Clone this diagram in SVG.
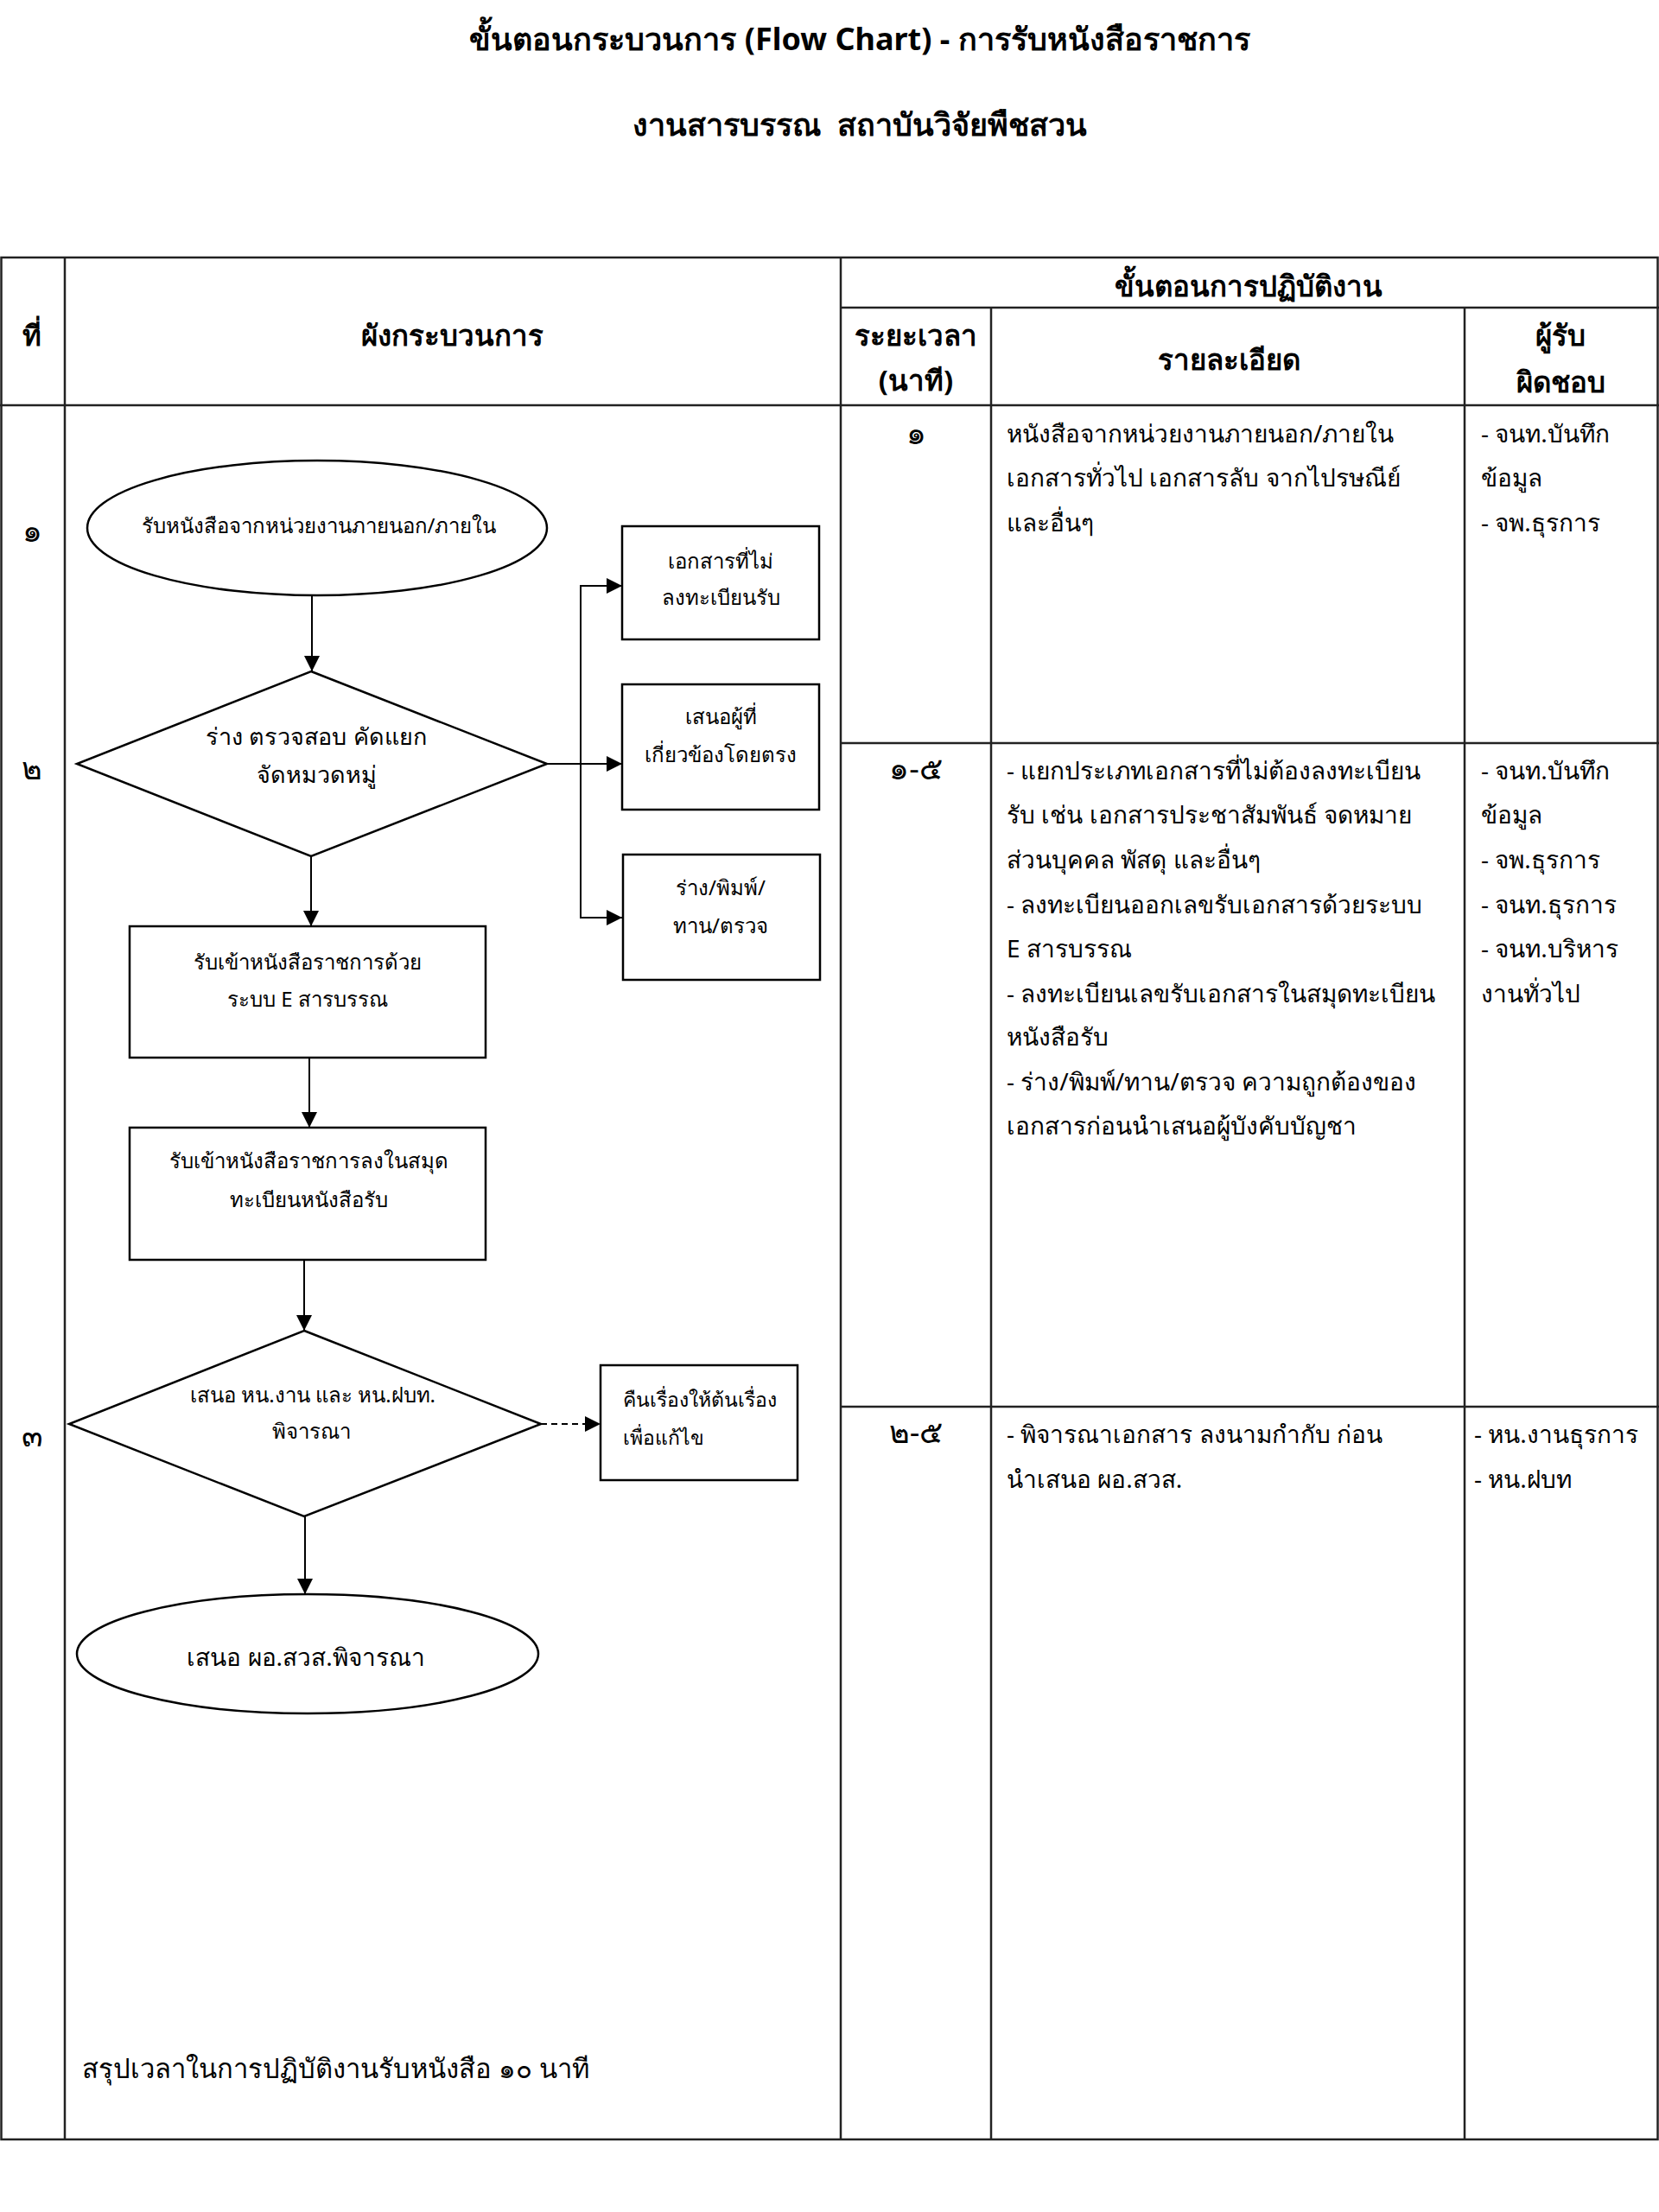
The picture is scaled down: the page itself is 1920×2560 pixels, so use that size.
<svg xmlns="http://www.w3.org/2000/svg" width="1920" height="2560" viewBox="0 0 1920 2560">
<defs>
<style>
.t{font-family:"Noto Sans","DejaVu Sans",sans-serif;fill:#000}
.b{font-weight:bold}
.h{font-size:33px}
.c{text-anchor:middle}
.d{font-size:28px}
.n{font-size:24px}
.g{font-size:36px}
.grid{stroke:#222;stroke-width:2.5;fill:none}
.shape{fill:#fff;stroke:#000;stroke-width:2.5}
.conn{stroke:#000;stroke-width:2;fill:none}
.dash{stroke-dasharray:7 5}
</style>
<marker id="arr" viewBox="0 0 10 10" refX="10" refY="5" markerUnits="userSpaceOnUse" markerWidth="20" markerHeight="18" orient="auto">
<path d="M0,0 L10,5 L0,10 z" fill="#000"/>
</marker>
</defs>
<rect width="1920" height="2560" fill="#fff"/>
<g id="title">
<text class="t b c" x="995" y="58" font-size="36">ขั้นตอนกระบวนการ (Flow Chart) - การรับหนังสือราชการ</text>
<text class="t b c" x="995" y="157" font-size="36" xml:space="preserve">งานสารบรรณ  สถาบันวิจัยพืชสวน</text>
</g>
<g id="table">
<rect class="grid" x="1.5" y="298" width="1917" height="2178"/>
<line class="grid" x1="75" y1="298" x2="75" y2="2476"/>
<line class="grid" x1="973" y1="298" x2="973" y2="2476"/>
<line class="grid" x1="973" y1="356" x2="1920" y2="356"/>
<line class="grid" x1="1147" y1="356" x2="1147" y2="2476"/>
<line class="grid" x1="1695" y1="356" x2="1695" y2="2476"/>
<line class="grid" x1="0" y1="469" x2="1920" y2="469"/>
<line class="grid" x1="973" y1="860" x2="1920" y2="860"/>
<line class="grid" x1="973" y1="1628" x2="1920" y2="1628"/>
<text class="t b h c" x="37" y="400">ที่</text>
<text class="t b h c" x="523" y="400">ผังกระบวนการ</text>
<text class="t b h c" x="1445" y="343">ขั้นตอนการปฏิบัติงาน</text>
<text class="t b h c" x="1060" y="400">ระยะเวลา</text>
<text class="t b h c" x="1060" y="452">(นาที)</text>
<text class="t b h c" x="1422" y="428">รายละเอียด</text>
<text class="t b h c" x="1806" y="400">ผู้รับ</text>
<text class="t b h c" x="1806" y="454">ผิดชอบ</text>
<text class="t g c" x="37" y="627">๑</text>
<text class="t g c" x="37" y="902">๒</text>
<text class="t g c" x="37" y="1674">๓</text>
</g>
<g id="row1">
<text class="t g c" x="1060" y="514">๑</text>
<text class="t d" x="1165" y="512">หนังสือจากหน่วยงานภายนอก/ภายใน</text>
<text class="t d" x="1165" y="563">เอกสารทั่วไป เอกสารลับ จากไปรษณีย์</text>
<text class="t d" x="1165" y="615">และอื่นๆ</text>
<text class="t d" x="1714" y="512">- จนท.บันทึก</text>
<text class="t d" x="1714" y="563">ข้อมูล</text>
<text class="t d" x="1714" y="615">- จพ.ธุรการ</text>
</g>
<g id="row2">
<text class="t g c" x="1060" y="902">๑-๕</text>
<text class="t d" x="1165" y="902">- แยกประเภทเอกสารที่ไม่ต้องลงทะเบียน</text>
<text class="t d" x="1165" y="953">รับ เช่น เอกสารประชาสัมพันธ์ จดหมาย</text>
<text class="t d" x="1165" y="1005">ส่วนบุคคล พัสดุ และอื่นๆ</text>
<text class="t d" x="1165" y="1057">- ลงทะเบียนออกเลขรับเอกสารด้วยระบบ</text>
<text class="t d" x="1165" y="1108">E สารบรรณ</text>
<text class="t d" x="1165" y="1160">- ลงทะเบียนเลขรับเอกสารในสมุดทะเบียน</text>
<text class="t d" x="1165" y="1210">หนังสือรับ</text>
<text class="t d" x="1165" y="1262">- ร่าง/พิมพ์/ทาน/ตรวจ ความถูกต้องของ</text>
<text class="t d" x="1165" y="1313">เอกสารก่อนนำเสนอผู้บังคับบัญชา</text>
<text class="t d" x="1714" y="902">- จนท.บันทึก</text>
<text class="t d" x="1714" y="953">ข้อมูล</text>
<text class="t d" x="1714" y="1005">- จพ.ธุรการ</text>
<text class="t d" x="1714" y="1057">- จนท.ธุรการ</text>
<text class="t d" x="1714" y="1108">- จนท.บริหาร</text>
<text class="t d" x="1714" y="1160">งานทั่วไป</text>
</g>
<g id="row3">
<text class="t g c" x="1060" y="1670">๒-๕</text>
<text class="t d" x="1165" y="1670">- พิจารณาเอกสาร ลงนามกำกับ ก่อน</text>
<text class="t d" x="1165" y="1722">นำเสนอ ผอ.สวส.</text>
<text class="t d" x="1706" y="1670">- หน.งานธุรการ</text>
<text class="t d" x="1706" y="1722">- หน.ฝบท</text>
</g>
<g id="connectors">
<line class="conn" x1="361" y1="689" x2="361" y2="777" marker-end="url(#arr)"/>
<line class="conn" x1="360" y1="991" x2="360" y2="1072" marker-end="url(#arr)"/>
<line class="conn" x1="358" y1="1224" x2="358" y2="1305" marker-end="url(#arr)"/>
<line class="conn" x1="352" y1="1458" x2="352" y2="1540" marker-end="url(#arr)"/>
<line class="conn" x1="353" y1="1755" x2="353" y2="1845" marker-end="url(#arr)"/>
<line class="conn" x1="633" y1="884" x2="720" y2="884" marker-end="url(#arr)"/>
<path class="conn" d="M672,884 V678 H720" marker-end="url(#arr)"/>
<path class="conn" d="M672,884 V1062 H720" marker-end="url(#arr)"/>
<line class="conn dash" x1="626" y1="1648" x2="695" y2="1648" marker-end="url(#arr)"/>
</g>
<g id="start">
<ellipse class="shape" cx="367" cy="611" rx="266" ry="78"/>
<text class="t n c" x="369" y="617">รับหนังสือจากหน่วยงานภายนอก/ภายใน</text>
</g>
<g id="sort">
<polygon class="shape" points="360,777 633,884 360,991 89,884"/>
<text class="t c" font-size="27" x="366" y="862">ร่าง ตรวจสอบ คัดแยก</text>
<text class="t c" font-size="27" x="366" y="906">จัดหมวดหมู่</text>
</g>
<g id="nonreg">
<rect class="shape" x="720" y="609" width="228" height="131"/>
<text class="t n c" x="834" y="658">เอกสารที่ไม่</text>
<text class="t n c" x="834" y="700">ลงทะเบียนรับ</text>
</g>
<g id="direct">
<rect class="shape" x="720" y="792" width="228" height="145"/>
<text class="t n c" x="834" y="838">เสนอผู้ที่</text>
<text class="t n c" x="834" y="882">เกี่ยวข้องโดยตรง</text>
</g>
<g id="draft">
<rect class="shape" x="721" y="989" width="228" height="145"/>
<text class="t n c" x="834" y="1036">ร่าง/พิมพ์/</text>
<text class="t n c" x="834" y="1080">ทาน/ตรวจ</text>
</g>
<g id="esys">
<rect class="shape" x="150" y="1072" width="412" height="152"/>
<text class="t n c" x="356" y="1122">รับเข้าหนังสือราชการด้วย</text>
<text class="t n c" x="356" y="1165">ระบบ E สารบรรณ</text>
</g>
<g id="book">
<rect class="shape" x="150" y="1305" width="412" height="153"/>
<text class="t n c" x="357" y="1352">รับเข้าหนังสือราชการลงในสมุด</text>
<text class="t n c" x="357" y="1397">ทะเบียนหนังสือรับ</text>
</g>
<g id="review">
<polygon class="shape" points="352,1540 626,1648 352,1755 80,1648"/>
<text class="t n c" x="362" y="1623">เสนอ หน.งาน และ หน.ฝบท.</text>
<text class="t n c" x="360" y="1665">พิจารณา</text>
</g>
<g id="return">
<rect class="shape" x="695" y="1580" width="228" height="133"/>
<text class="t" font-size="23" x="721" y="1628">คืนเรื่องให้ต้นเรื่อง</text>
<text class="t" font-size="23" x="721" y="1672">เพื่อแก้ไข</text>
</g>
<g id="end">
<ellipse class="shape" cx="356" cy="1914" rx="267" ry="69"/>
<text class="t d c" font-size="30" x="354" y="1928">เสนอ ผอ.สวส.พิจารณา</text>
</g>
<g id="summary">
<text class="t" font-size="31" x="95" y="2405">สรุปเวลาในการปฏิบัติงานรับหนังสือ ๑๐ นาที</text>
</g>
</svg>
